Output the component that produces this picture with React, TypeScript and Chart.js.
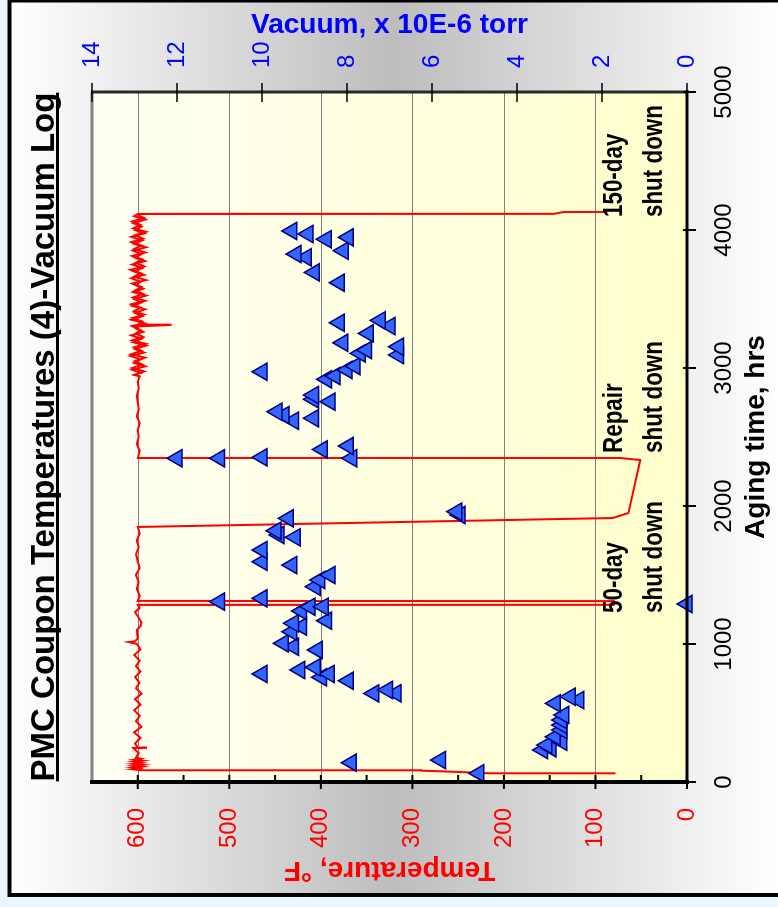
import React, { useEffect, useRef } from "react";
import { Chart, registerables } from "chart.js";

Chart.register(...registerables);

// ---- data ----
const timeTicks = [0, 1000, 2000, 3000, 4000, 5000];
const tempTicks = [0, 100, 200, 300, 400, 500, 600];
const tempMinorTicks = [50, 150, 250, 350, 450, 550];
const vacTicks = [0, 2, 4, 6, 8, 10, 12, 14];

// Coupon temperature log (aging hours, °F)
const tempHours = [
  63, 63, 75, 82, 85, 92, 98, 105, 112, 118, 125, 132, 140, 148, 155, 162, 170, 176, 210, 246, 247, 250,
  280, 320, 360, 400, 440, 480, 520, 560, 600, 640, 680, 720, 760, 800, 840, 880, 920, 960, 1000, 1014,
  1020, 1040, 1101, 1130, 1159, 1200, 1232, 1261, 1283, 1284, 1311, 1312,
  1350, 1400, 1450, 1500, 1550, 1600, 1650, 1700, 1750, 1800, 1848, 1913, 1949, 2333, 2348, 2348,
  2400, 2450, 2500, 2550, 2600, 2650, 2700, 2750, 2800, 2850, 2900, 2940,
  2950, 2975, 3000, 3025, 3050, 3075, 3100, 3125, 3150, 3175, 3200, 3225, 3250, 3275, 3300, 3312, 3314,
  3325, 3350, 3375, 3400, 3425, 3450, 3475, 3500, 3525, 3550, 3575, 3600, 3625, 3650, 3675, 3700, 3725,
  3750, 3775, 3800, 3825, 3850, 3875, 3900, 3925, 3950, 3975, 4000, 4025, 4050, 4075, 4100, 4116,
  4117, 4130, 4131,
];
const tempF = [
  78, 215, 258, 290, 596, 605, 595, 605, 596, 604, 595, 605, 596, 604, 595, 604, 597, 602, 599, 605, 591, 600,
  603, 597, 604, 596, 602, 598, 604, 597, 603, 596, 602, 598, 603, 597, 602, 598, 604, 597, 601, 610,
  603, 600, 601, 597, 596, 600, 603, 598, 600, 80, 80, 600,
  598, 601, 599, 602, 598, 600, 602, 599, 601, 598, 600, 81, 64, 51, 73, 600,
  598, 601, 599, 600, 598, 601, 599, 600, 601, 599, 600, 598,
  604, 593, 606, 595, 603, 592, 607, 596, 604, 591, 606, 594, 602, 597, 605, 564, 600,
  593, 607, 595, 603, 592, 606, 596, 604, 591, 605, 594, 602, 597, 607, 593, 604, 595,
  606, 592, 603, 596, 605, 591, 604, 595, 607, 593, 603, 596, 605, 592, 604, 600,
  146, 135, 87,
];

// Second coupon trace in the noisy late period (aging hours, °F)
const temp2Hours = [
  2962, 2987, 3012, 3037, 3062, 3087, 3112, 3137, 3162, 3187, 3212, 3237, 3262, 3287, 3337, 3362, 3387,
  3412, 3437, 3462, 3487, 3512, 3537, 3562, 3587, 3612, 3637, 3662, 3687, 3712, 3737, 3762, 3787, 3812,
  3837, 3862, 3887, 3912, 3937, 3962, 3987, 4012, 4037, 4062, 4087, 4108,
];
const temp2F = [
  595, 606, 592, 604, 597, 608, 593, 603, 591, 605, 596, 607, 594, 602, 595, 606, 593,
  604, 597, 607, 592, 605, 594, 603, 596, 606, 591, 604, 597, 608, 593, 602, 595, 606,
  592, 604, 596, 607, 594, 603, 591, 605, 597, 606, 593, 600,
];

// Vacuum readings (aging hours, x 10E-6 torr)
const vacHours = [
  63, 140, 159, 232, 244, 268, 292, 328, 377, 413, 449, 486, 570, 594, 618, 642, 643, 667,
  734, 759, 783, 783, 812, 831, 957, 980, 1005, 1089, 1126, 1150, 1169, 1239, 1270, 1270, 1290,
  1307, 1331, 1415, 1464, 1500, 1572, 1596, 1681, 1773, 1790, 1821, 1911, 1935, 1959,
  2346, 2346, 2353, 2346, 2410, 2435, 2618, 2636, 2659, 2683, 2756, 2773, 2804,
  2918, 2942, 2973, 2986, 3014, 3094, 3106, 3130, 3154, 3183, 3251, 3304, 3328, 3345,
  3618, 3693, 3802, 3826, 3850, 3933, 3947, 3971, 3993,
];
const vacTorr = [
  4.9, 7.9, 5.8, 3.4, 3.2, 3.3, 2.95, 3.1, 2.95, 2.95, 2.95, 2.9, 3.1, 2.55, 2.75, 7.37, 6.85, 7.05,
  7.97, 8.6, 8.42, 10.0, 9.11, 8.75, 8.7, 9.26, 9.5, 9.3, 9.07, 9.26, 8.48, 9.07, 8.87, 8.56, 0.0,
  11.0, 10.0, 8.75, 8.64, 8.4, 9.3, 10.0, 10.0, 9.22, 9.6, 9.67, 9.38, 5.34, 5.42,
  12.0, 11.0, 10.0, 7.89, 8.58, 7.97, 9.26, 8.79, 9.48, 9.65, 8.4, 8.79, 8.79,
  8.48, 8.28, 10.0, 8.0, 7.81, 6.79, 7.69, 7.54, 6.79, 8.1, 7.5, 6.99, 8.18, 7.22,
  8.18, 8.77, 8.96, 9.2, 8.09, 8.49, 7.97, 8.92, 9.3,
];

// Event notes (label lines, aging hour where label starts)
const noteFirst = ["50-day", "Repair", "150-day"];
const noteSecond = ["shut down", "shut down", "shut down"];
const noteHours = [1225, 2384, 4094];

const chartTitle = "PMC Coupon Temperatures (4)-Vacuum Log";
const tempTitle = "Temperature, \u00B0F";
const vacTitle = "Vacuum, x 10E-6 torr";
const timeTitle = "Aging time, hrs";

// ---- layout (unrotated frame) ----
const W = 907;
const H = 778;
const FONT = '"Liberation Sans", Arial, Helvetica, sans-serif';

const decor = {
  id: "decor",
  beforeDraw(chart: any) {
    const { ctx, chartArea: a } = chart;
    ctx.save();
    ctx.fillStyle = "#eaf5fd";
    ctx.fillRect(0, 0, W, H);
    const g = ctx.createLinearGradient(0, 10, 0, H);
    g.addColorStop(0, "#ffffff");
    g.addColorStop(0.5, "#bdbdbd");
    g.addColorStop(1, "#ffffff");
    ctx.fillStyle = g;
    ctx.fillRect(12, 9, 894, H - 9);
    ctx.strokeStyle = "#000";
    ctx.lineWidth = 4;
    ctx.beginPath();
    ctx.moveTo(12, H + 5);
    ctx.lineTo(12, 9.5);
    ctx.lineTo(906.5, 9.5);
    ctx.lineTo(906.5, H + 5);
    ctx.stroke();
    const pg = ctx.createLinearGradient(0, a.top, 0, a.bottom);
    pg.addColorStop(0, "#fffff4");
    pg.addColorStop(1, "#ffffcc");
    ctx.fillStyle = pg;
    ctx.fillRect(a.left, a.top, a.right - a.left, a.bottom - a.top);
    ctx.restore();
  },
  beforeDatasetsDraw(chart: any) {
    const { ctx, chartArea: a } = chart;
    const ys = chart.scales.y;
    ctx.save();
    ctx.strokeStyle = "#808080";
    ctx.lineWidth = 1;
    tempTicks.forEach((t) => {
      if (t === 0) return;
      const py = Math.round(ys.getPixelForValue(t)) + 0.5;
      ctx.beginPath();
      ctx.moveTo(a.left, py);
      ctx.lineTo(a.right, py);
      ctx.stroke();
    });
    ctx.restore();
  },
  afterDatasetsDraw(chart: any) {
    const { ctx, chartArea: a } = chart;
    const xs = chart.scales.x;
    const ys = chart.scales.y;
    const y2 = chart.scales.y2;
    ctx.save();
    ctx.lineCap = "butt";
    ctx.strokeStyle = "#808080";
    ctx.lineWidth = 3;
    ctx.beginPath();
    ctx.moveTo(a.left, a.top);
    ctx.lineTo(a.right, a.top);
    ctx.stroke();
    ctx.strokeStyle = "#2a2a2a";
    ctx.lineWidth = 3;
    ctx.beginPath();
    ctx.moveTo(a.right, a.top - 1);
    ctx.lineTo(a.right, a.bottom + 1);
    ctx.stroke();
    ctx.strokeStyle = "#000";
    ctx.lineWidth = 4;
    ctx.beginPath();
    ctx.moveTo(a.left, a.top - 2);
    ctx.lineTo(a.left, a.bottom + 2);
    ctx.stroke();
    ctx.lineWidth = 3;
    ctx.beginPath();
    ctx.moveTo(a.left - 2, a.bottom);
    ctx.lineTo(a.right + 2, a.bottom);
    ctx.stroke();
    // temperature ticks
    ctx.lineWidth = 2;
    tempTicks.forEach((t) => {
      const py = ys.getPixelForValue(t);
      ctx.beginPath();
      ctx.moveTo(a.left - 7, py);
      ctx.lineTo(a.left + 7, py);
      ctx.stroke();
    });
    tempMinorTicks.forEach((t) => {
      const py = ys.getPixelForValue(t);
      ctx.beginPath();
      ctx.moveTo(a.left, py);
      ctx.lineTo(a.left + 7, py);
      ctx.stroke();
    });
    // time ticks
    timeTicks.forEach((t) => {
      const px = xs.getPixelForValue(t);
      ctx.beginPath();
      ctx.moveTo(px, a.bottom - 4);
      ctx.lineTo(px, a.bottom + 9);
      ctx.stroke();
    });
    // vacuum ticks
    ctx.lineWidth = 1.5;
    vacTicks.forEach((v) => {
      const py = y2.getPixelForValue(v);
      ctx.beginPath();
      ctx.moveTo(a.right - 10, py);
      ctx.lineTo(a.right + 9, py);
      ctx.stroke();
    });

    const midX = (a.left + a.right) / 2;
    const midY = (a.top + a.bottom) / 2;

    // main title
    ctx.fillStyle = "#000";
    ctx.font = `bold 33px ${FONT}`;
    ctx.textAlign = "center";
    ctx.textBaseline = "alphabetic";
    ctx.fillText(chartTitle, midX, 54);
    const tw = ctx.measureText(chartTitle).width;
    ctx.lineWidth = 3;
    ctx.beginPath();
    ctx.moveTo(midX - tw / 2, 57.5);
    ctx.lineTo(midX + tw / 2, 57.5);
    ctx.stroke();

    // axis titles
    ctx.font = `bold 28px ${FONT}`;
    ctx.textBaseline = "middle";
    ctx.fillText(timeTitle, midX, 756);

    ctx.save();
    ctx.translate(37, midY);
    ctx.rotate(-Math.PI / 2);
    ctx.fillStyle = "#ff0000";
    ctx.fillText(tempTitle, 0, 0);
    ctx.restore();

    ctx.save();
    ctx.translate(882, midY);
    ctx.rotate(Math.PI / 2);
    ctx.fillStyle = "#0000ff";
    ctx.fillText(vacTitle, 0, 0);
    ctx.restore();

    // notes (condensed bold text)
    ctx.fillStyle = "#000";
    ctx.font = `bold 28px ${FONT}`;
    ctx.textAlign = "left";
    ctx.textBaseline = "middle";
    noteHours.forEach((h, i) => {
      const px = xs.getPixelForValue(h);
      [noteFirst[i], noteSecond[i]].forEach((txt, k) => {
        ctx.save();
        ctx.translate(px, a.bottom - (k === 0 ? 73 : 33));
        ctx.scale(0.8, 1);
        ctx.fillText(txt, 0, 0);
        ctx.restore();
      });
    });
    ctx.restore();
  },
};

export default function App() {
  const ref = useRef<HTMLCanvasElement>(null);
  useEffect(() => {
    const tempPts = tempHours.map((h, i) => ({ x: h, y: tempF[i] }));
    const temp2Pts = temp2Hours.map((h, i) => ({ x: h, y: temp2F[i] }));
    const vacPts = vacHours.map((h, i) => ({ x: h, y: vacTorr[i] }));
    const chart = new Chart(ref.current as HTMLCanvasElement, {
      type: "scatter",
      data: {
        datasets: [
          {
            label: "Vacuum",
            data: vacPts,
            yAxisID: "y2",
            pointStyle: "triangle",
            pointRadius: 10,
            backgroundColor: "#3366ff",
            borderColor: "#000080",
            borderWidth: 1.5,
            clip: false as any,
          },
          {
            label: "Temperature",
            data: tempPts,
            yAxisID: "y",
            showLine: true,
            borderColor: "#ff0000",
            backgroundColor: "#ff0000",
            borderWidth: 2,
            pointRadius: 0,
            tension: 0,
          },
          {
            label: "Temperature 2",
            data: temp2Pts,
            yAxisID: "y",
            showLine: true,
            borderColor: "#ff0000",
            backgroundColor: "#ff0000",
            borderWidth: 2,
            pointRadius: 0,
            tension: 0,
          },
        ],
      },
      options: {
        responsive: false,
        animation: false,
        devicePixelRatio: 1,
        events: [],
        layout: { padding: { top: 92, left: 0, right: 0, bottom: 0 } },
        plugins: { legend: { display: false }, tooltip: { enabled: false }, title: { display: false } },
        scales: {
          x: {
            type: "linear",
            position: "bottom",
            min: 0,
            max: 5000,
            grid: { display: false, drawTicks: false },
            border: { display: false },
            ticks: {
              stepSize: 1000,
              color: "#000",
              font: { family: FONT, size: 24 },
              padding: 23,
              maxRotation: 0,
              autoSkip: false,
              callback: (v: any) => String(v),
            },
            afterFit: (s: any) => {
              s.height = 91;
            },
          },
          y: {
            type: "linear",
            position: "left",
            min: 0,
            max: 650,
            grid: { display: false, drawTicks: false },
            border: { display: false },
            ticks: {
              color: "#ff0000",
              font: { family: FONT, size: 24 },
              padding: 26,
              autoSkip: false,
              callback: (v: any) => String(v),
            },
            afterBuildTicks: (s: any) => {
              s.ticks = tempTicks.map((v) => ({ value: v }));
            },
            afterFit: (s: any) => {
              s.width = 125;
            },
          },
          y2: {
            type: "linear",
            position: "right",
            min: 0,
            max: 14,
            grid: { display: false, drawTicks: false },
            border: { display: false },
            ticks: {
              stepSize: 2,
              color: "#0000ff",
              font: { family: FONT, size: 24 },
              padding: 24,
              autoSkip: false,
              callback: (v: any) => String(v),
            },
            afterFit: (s: any) => {
              s.width = 92;
            },
          },
        },
      } as any,
      plugins: [decor],
    });
    return () => chart.destroy();
  }, []);

  return (
    <div
      style={{
        position: "absolute",
        left: 0,
        top: 0,
        width: 778,
        height: 907,
        overflow: "hidden",
        background: "#eaf5fd",
      }}
    >
      <div
        style={{
          position: "absolute",
          left: 0,
          top: 0,
          width: W,
          height: H,
          transform: `translate(0px, ${W}px) rotate(-90deg)`,
          transformOrigin: "0 0",
        }}
      >
        <canvas ref={ref} width={W} height={H} style={{ display: "block", width: W, height: H }} />
      </div>
    </div>
  );
}
